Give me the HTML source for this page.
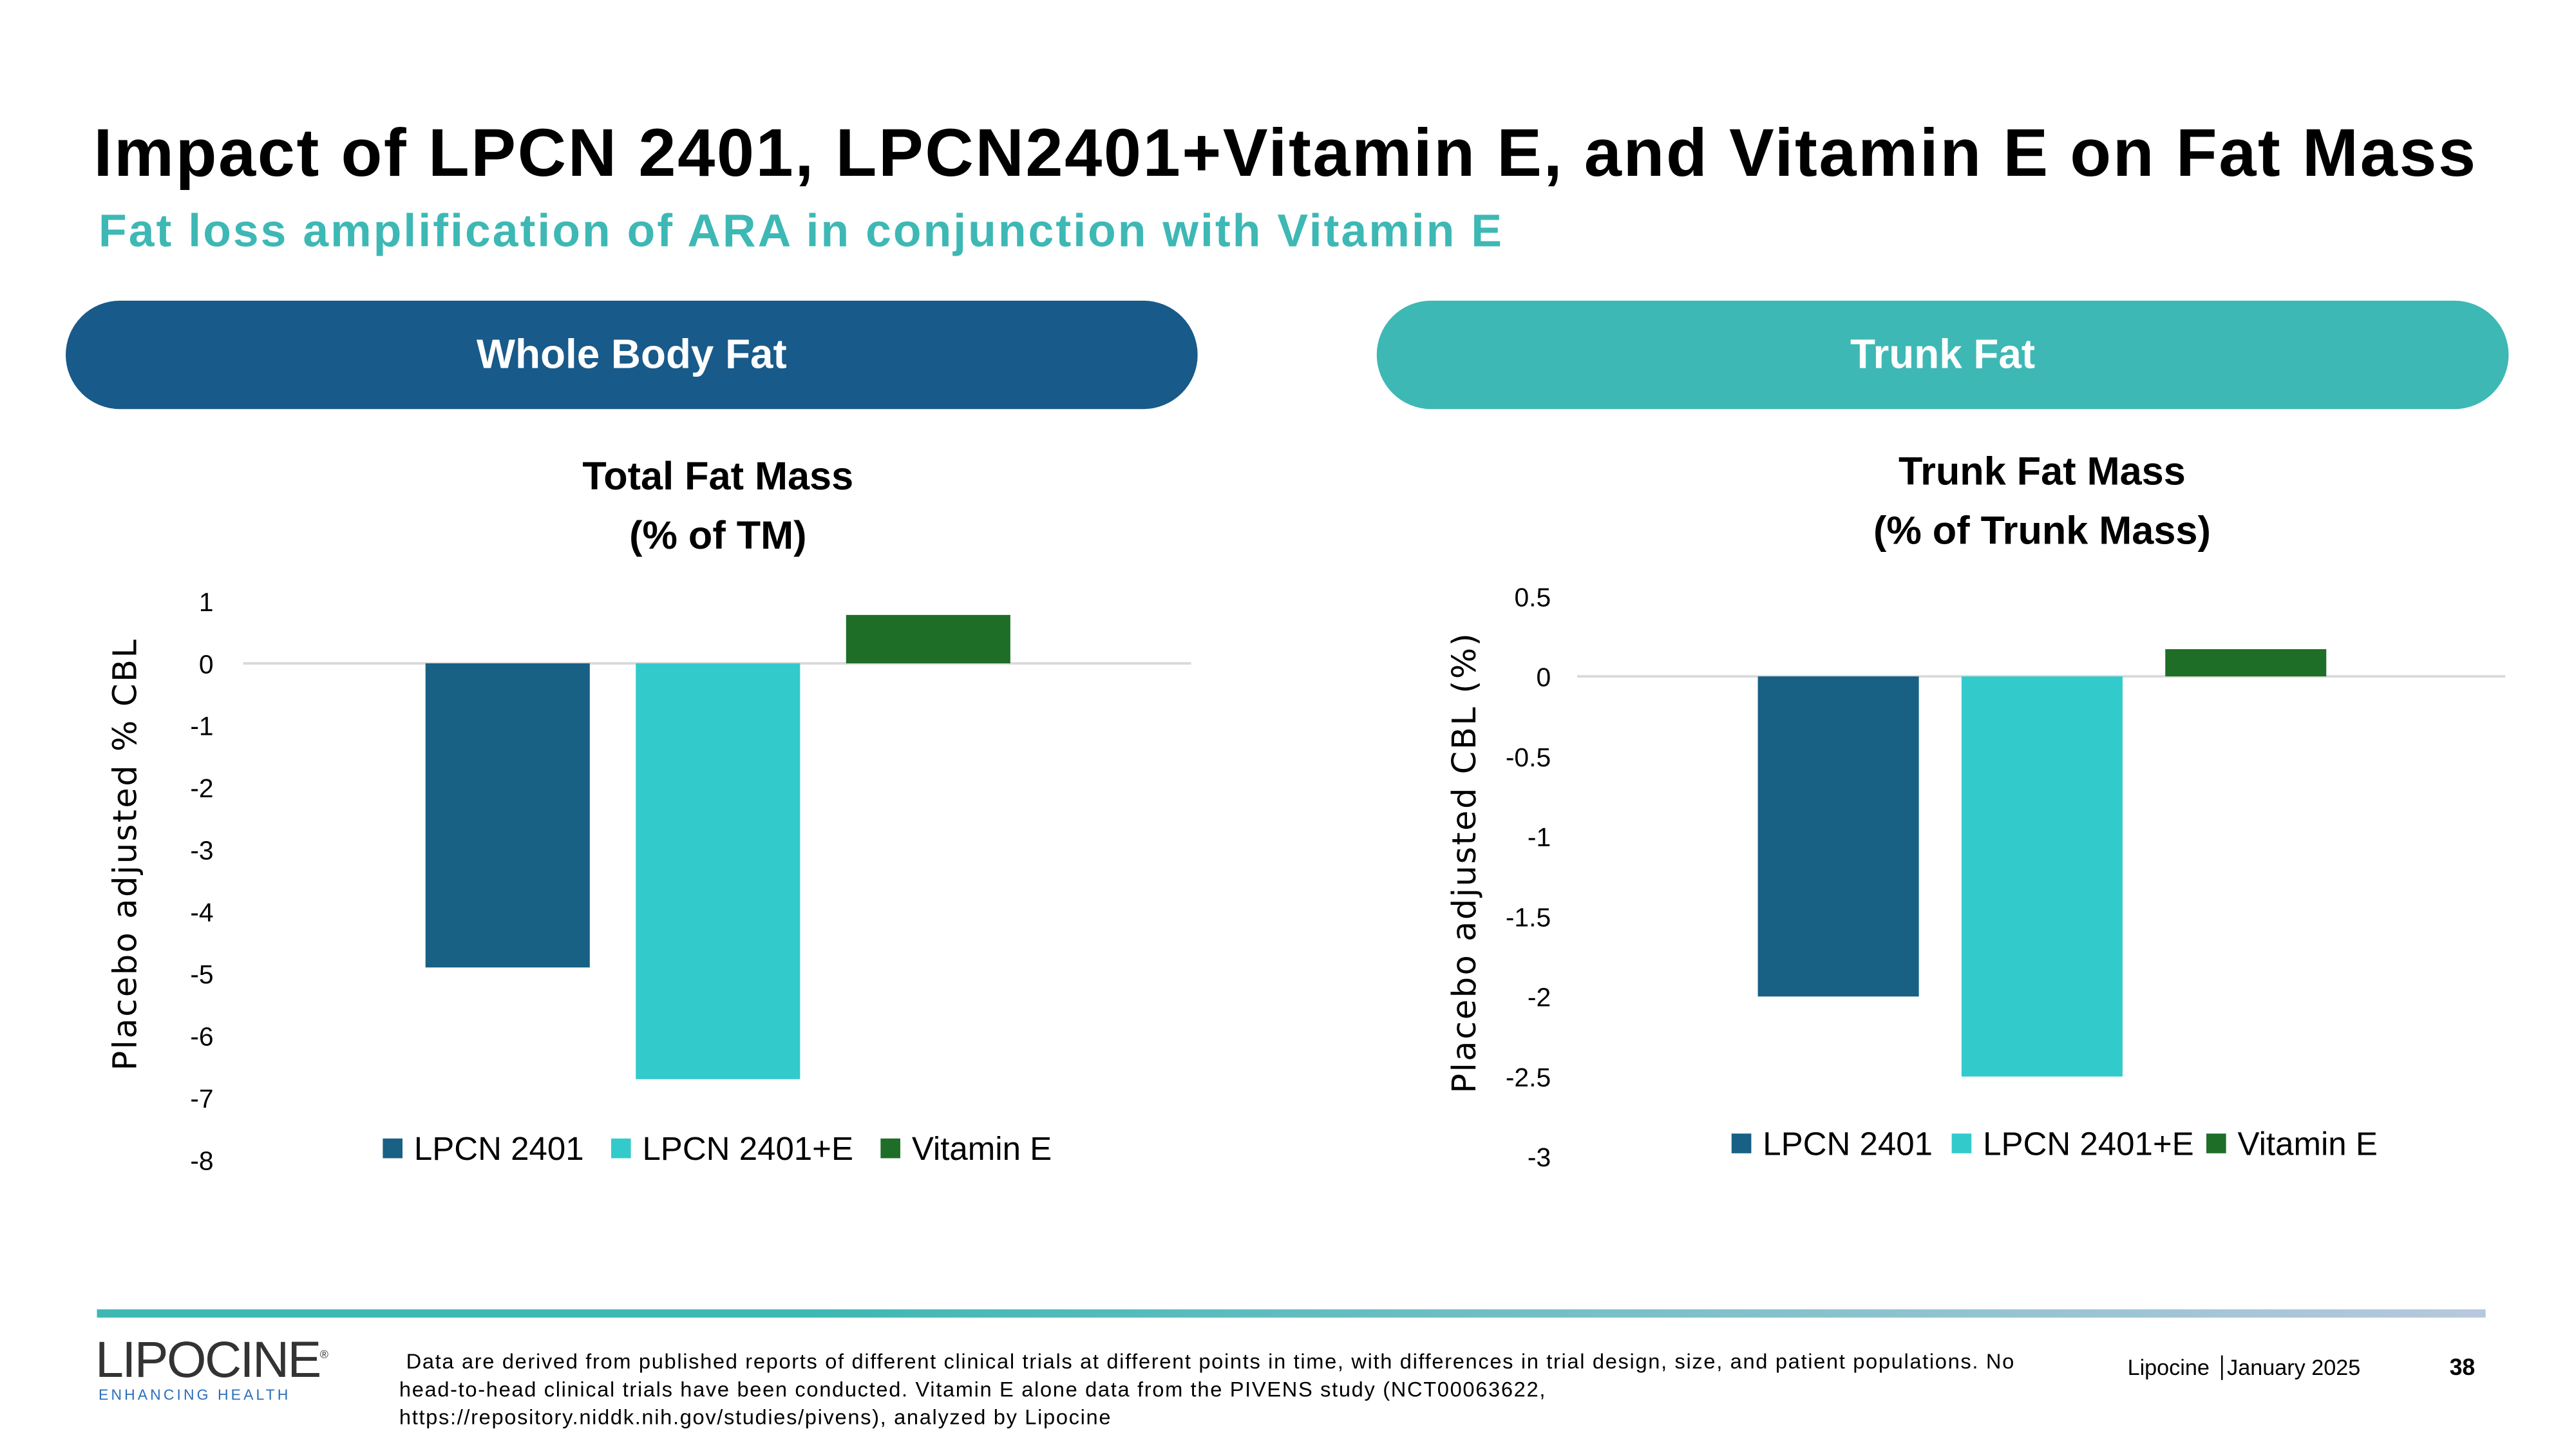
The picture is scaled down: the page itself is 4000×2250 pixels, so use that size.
<!DOCTYPE html>
<html><head><meta charset="utf-8"><style>
html,body{margin:0;padding:0;background:#fff;overflow:hidden}
#root{position:relative;width:1568px;height:882px;transform:scale(2.55102);transform-origin:0 0;font-family:"Liberation Sans",sans-serif;color:#000}
.abs{position:absolute;white-space:nowrap}
.pill{position:absolute;top:183px;height:66px;width:689px;border-radius:33px;color:#fff;font-weight:bold;font-size:25px;display:flex;align-items:center;justify-content:center}
.ct{position:absolute;text-align:center;font-weight:bold;font-size:24px;line-height:36px}
</style></head><body>
<div id="root">
<div class="abs" style="left:57px;top:70px;font-size:41px;font-weight:bold;letter-spacing:1.0px">Impact of LPCN 2401, LPCN2401+Vitamin E, and Vitamin E on Fat Mass</div>
<div class="abs" style="left:60px;top:125px;font-size:28px;font-weight:bold;color:#3db8b5;letter-spacing:1.2px">Fat loss amplification of ARA in conjunction with Vitamin E</div>
<div class="pill" style="left:40px;background:#185a8a">Whole Body Fat</div>
<div class="pill" style="left:838px;background:#3db8b5">Trunk Fat</div>
<div class="ct" style="left:287px;width:300px;top:273px">Total Fat Mass<br>(% of TM)</div>
<div class="ct" style="left:1043px;width:400px;top:270px">Trunk Fat Mass<br>(% of Trunk Mass)</div>
<svg id="chart" width="1568" height="882" style="position:absolute;left:0;top:0"></svg>
<div style="position:absolute;left:59px;top:797px;width:1454px;height:5px;background:linear-gradient(90deg,#3db8b5 0%,#3db8b5 30%,#b8c8dc 100%)"></div>
<div class="abs" style="left:58px;top:810px;font-size:31px;letter-spacing:-1px;color:#333;font-weight:normal">LIPOCINE<sup style="font-size:7px">®</sup></div>
<div class="abs" style="left:60px;top:844px;font-size:9px;letter-spacing:1.6px;color:#2a6ebb">ENHANCING HEALTH</div>
<div class="abs" style="left:243px;top:820px;font-size:12.8px;line-height:17px;letter-spacing:0.65px">&nbsp;Data are derived from published reports of different clinical trials at different points in time, with differences in trial design, size, and patient populations. No<br>head-to-head clinical trials have been conducted. Vitamin E alone data from the PIVENS study (NCT00063622,<br>https://repository.niddk.nih.gov/studies/pivens), analyzed by Lipocine</div>
<div class="abs" style="left:1295px;top:825px;font-size:13.4px">Lipocine <span style="border-left:1px solid #000;margin:0 3px"></span> January 2025</div>
<div class="abs" style="left:1491px;top:824px;font-size:14px;font-weight:bold">38</div>
</div>
<script>
const categories=["LPCN 2401","LPCN 2401+E","Vitamin E"];
const colors=["#186084","#33cacc","#1e6e27"];
const totalFatValues=[-4.9,-6.7,0.78];
const totalFatTicks=[1,0,-1,-2,-3,-4,-5,-6,-7,-8];
const trunkFatValues=[-2.0,-2.5,0.17];
const trunkFatTicks=[0.5,0,-0.5,-1,-1.5,-2,-2.5,-3];
const NS="http://www.w3.org/2000/svg";
const svg=document.getElementById('chart');
function mk(t,a){const e=document.createElementNS(NS,t);for(const k in a)e.setAttribute(k,a[k]);svg.appendChild(e);return e;}
function draw(cfg){
  const y=v=>cfg.y0+(cfg.max-v)/(cfg.max-cfg.min)*(cfg.y1-cfg.y0);
  cfg.ticks.forEach(t=>{const e=mk('text',{x:cfg.tickX,y:y(t)+6,'text-anchor':'end','font-size':16,'font-family':'Liberation Sans, sans-serif'});e.textContent=t;
    
    });
  const zl=mk('line',{x1:cfg.x0,x2:cfg.x1,y1:y(0),y2:y(0),stroke:'#d9d9d9','stroke-width':1.5});
  
  
  cfg.values.forEach((v,i)=>{const x=cfg.barX0+i*cfg.step;
    const r=mk('rect',{x:x,width:cfg.bw,y:Math.min(y(v),y(0)),height:Math.abs(y(v)-y(0)),fill:colors[i]});
    
    });
  const at=mk('text',{transform:`translate(${cfg.titleX},${cfg.titleY}) rotate(-90)`,'text-anchor':'middle','font-size':20,'letter-spacing':'1','font-family':'DejaVu Sans, sans-serif'});
  at.textContent=cfg.title;
  
  
  categories.forEach((c,i)=>{
    const s=mk('rect',{x:cfg.legX[i],y:cfg.legY-7,width:12,height:12,fill:colors[i]});
    
    
    const t=mk('text',{x:cfg.legX[i]+19,y:cfg.legY+6,'font-size':20,'font-family':'Liberation Sans, sans-serif'});t.textContent=c;
    
    });
}
draw({values:totalFatValues,ticks:totalFatTicks,max:1,min:-8,y0:366,y1:706,tickX:130,x0:148,x1:725,barX0:259,step:128,bw:100,title:'Placebo adjusted % CBL',titleX:83,titleY:520,legX:[233,372,536],legY:700});
draw({values:trunkFatValues,ticks:trunkFatTicks,max:0.5,min:-3,y0:363,y1:704,tickX:944,x0:960,x1:1525,barX0:1070,step:124,bw:98,title:'Placebo adjusted CBL (%)',titleX:898,titleY:525,legX:[1054,1188,1343],legY:697});
</script>
</body></html>
